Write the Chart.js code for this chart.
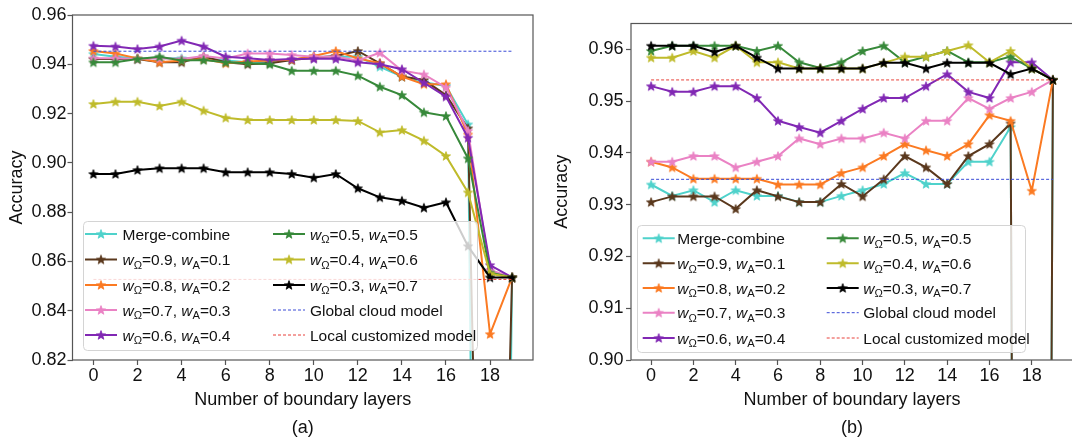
<!DOCTYPE html>
<html>
<head>
<meta charset="utf-8">
<script src="https://cdn.jsdelivr.net/npm/chart.js@4.4.1/dist/chart.umd.min.js"></script>
<style>
  html, body { margin: 0; padding: 0; background: #fff; overflow: hidden; }
  #wrap { position: relative; width: 1072px; height: 438px; overflow: hidden; }
  canvas { position: absolute; top: 0; }
  #chartA { left: 0; }
  #chartB { left: 540px; }
</style>
</head>
<body>
<div id="wrap">
  <canvas id="chartA" width="540" height="438"></canvas>
  <canvas id="chartB" width="540" height="438"></canvas>
</div>
<script>
// x values and tick labels
const layers = [0, 1, 2, 3, 4, 5, 6, 7, 8, 9, 10, 11, 12, 13, 14, 15, 16, 17, 18, 19];
const xTicks = [0, 2, 4, 6, 8, 10, 12, 14, 16, 18];
const yTicksA = [0.82, 0.84, 0.86, 0.88, 0.90, 0.92, 0.94, 0.96];
const yTicksB = [0.90, 0.91, 0.92, 0.93, 0.94, 0.95, 0.96];

// weight pairs for the legend (w_Omega, w_A)
const weightsOmega = [0.9, 0.8, 0.7, 0.6, 0.5, 0.4, 0.3];
const weightsA = [0.1, 0.2, 0.3, 0.4, 0.5, 0.6, 0.7];

// panel (a)
const mergeA = [0.9442, 0.9431, 0.9424, 0.9424, 0.9424, 0.9424, 0.9415, 0.9408, 0.9408, 0.9417, 0.9431, 0.9431, 0.9431, 0.9390, 0.9350, 0.9327, 0.9312, 0.9156, 0.1, 0.8535];
const w91A = [0.9421, 0.9421, 0.9421, 0.9408, 0.9408, 0.9431, 0.9408, 0.9400, 0.9404, 0.9417, 0.9427, 0.9434, 0.9454, 0.9404, 0.9350, 0.9336, 0.9275, 0.9140, 0.5, 0.8535];
const w82A = [0.9454, 0.9444, 0.9424, 0.9408, 0.9415, 0.9421, 0.9404, 0.9411, 0.9415, 0.9418, 0.9434, 0.9454, 0.9424, 0.9404, 0.9350, 0.9319, 0.9319, 0.9115, 0.8305, 0.8535];
const w73A = [0.9424, 0.9424, 0.9421, 0.9424, 0.9421, 0.9434, 0.9424, 0.9444, 0.9444, 0.9438, 0.9431, 0.9431, 0.9415, 0.9447, 0.9375, 0.9359, 0.9306, 0.9130, 0.8565, 0.8535];
const w64A = [0.9475, 0.9472, 0.9462, 0.9472, 0.9496, 0.9472, 0.9431, 0.9424, 0.9417, 0.9421, 0.9422, 0.9422, 0.9408, 0.9400, 0.9380, 0.9325, 0.9269, 0.9102, 0.8585, 0.8535];
const w55A = [0.9408, 0.9408, 0.9421, 0.9431, 0.9415, 0.9417, 0.9408, 0.9404, 0.9400, 0.9374, 0.9374, 0.9374, 0.9354, 0.9309, 0.9275, 0.9205, 0.9190, 0.9018, 0.8555, 0.8535];
const w46A = [0.9239, 0.9248, 0.9248, 0.9231, 0.9248, 0.9212, 0.9183, 0.9174, 0.9174, 0.9174, 0.9174, 0.9174, 0.9170, 0.9124, 0.9133, 0.9090, 0.9028, 0.8880, 0.8550, 0.8535];
const w37A = [0.8955, 0.8955, 0.8971, 0.8978, 0.8978, 0.8978, 0.8962, 0.8962, 0.8962, 0.8955, 0.8940, 0.8955, 0.8897, 0.8860, 0.8846, 0.8818, 0.8840, 0.8662, 0.8535, 0.8535];
const globalA = 0.9453;
const localA = 0.8527;

// panel (b)
const mergeB = [0.9339, 0.9317, 0.9328, 0.9305, 0.9328, 0.9317, 0.9317, 0.9305, 0.9305, 0.9317, 0.9328, 0.9340, 0.9361, 0.9340, 0.9340, 0.9383, 0.9383, 0.9450, 0.1, 0.9541];
const w91B = [0.9305, 0.9316, 0.9316, 0.9316, 0.9292, 0.9328, 0.9316, 0.9305, 0.9305, 0.9340, 0.9316, 0.9349, 0.9394, 0.9372, 0.9340, 0.9394, 0.9417, 0.9457, 0.1, 0.9541];
const w82B = [0.9383, 0.9372, 0.9350, 0.9350, 0.9350, 0.9350, 0.9339, 0.9339, 0.9339, 0.9361, 0.9372, 0.9394, 0.9417, 0.9405, 0.9394, 0.9417, 0.9473, 0.9462, 0.9327, 0.9541];
const w73B = [0.9383, 0.9383, 0.9394, 0.9394, 0.9372, 0.9383, 0.9394, 0.9428, 0.9417, 0.9428, 0.9428, 0.9439, 0.9428, 0.9462, 0.9462, 0.9506, 0.9485, 0.9506, 0.9518, 0.9541];
const w64B = [0.9529, 0.9518, 0.9518, 0.9529, 0.9529, 0.9506, 0.9462, 0.9450, 0.9439, 0.9462, 0.9485, 0.9506, 0.9506, 0.9529, 0.9552, 0.9518, 0.9506, 0.9575, 0.9575, 0.9541];
const w55B = [0.9597, 0.9607, 0.9607, 0.9607, 0.9607, 0.9597, 0.9607, 0.9575, 0.9564, 0.9575, 0.9597, 0.9607, 0.9575, 0.9586, 0.9597, 0.9575, 0.9575, 0.9586, 0.9563, 0.9541];
const w46B = [0.9584, 0.9584, 0.9597, 0.9584, 0.9607, 0.9575, 0.9575, 0.9563, 0.9563, 0.9563, 0.9563, 0.9574, 0.9586, 0.9586, 0.9597, 0.9608, 0.9575, 0.9597, 0.9563, 0.9541];
const w37B = [0.9607, 0.9607, 0.9607, 0.9595, 0.9607, 0.9584, 0.9563, 0.9563, 0.9563, 0.9563, 0.9563, 0.9574, 0.9574, 0.9563, 0.9574, 0.9574, 0.9574, 0.9552, 0.9563, 0.9541];
const globalB = 0.9349;
const localB = 0.9541;

const FONT = '"Liberation Sans", Arial, Helvetica, sans-serif';
const seriesColors = ["#4fd2cb", "#5a381d", "#fb7a22", "#ea82c4", "#8128b4", "#37893a", "#bfbb2b", "#000000"];
const refColors = ["#3a4bd6", "#e8413a"];

// filled 5 point star like matplotlib's "*"
function starMarker(color) {
  const r = 4.8;
  const s = 12;
  const c = document.createElement("canvas");
  c.width = s;
  c.height = s;
  const g = c.getContext("2d");
  g.beginPath();
  for (let i = 0; i < 10; i++) {
    const rad = i % 2 ? r * 0.42 : r;
    const a = -Math.PI / 2 + (i * Math.PI) / 5;
    g.lineTo(s / 2 + rad * Math.cos(a), s / 2 + 0.4 + rad * Math.sin(a));
  }
  g.closePath();
  g.fillStyle = color;
  g.fill();
  g.strokeStyle = color;
  g.lineWidth = 0.8;
  g.stroke();
  return c;
}

function weightLabel(wo, wa) {
  return [
    { t: "w", it: true }, { t: "\u03A9", sub: true }, { t: "=" + wo.toFixed(1) + ", " },
    { t: "w", it: true }, { t: "A", sub: true }, { t: "=" + wa.toFixed(1) },
  ];
}

function buildDatasets(seriesList, globalVal, localVal) {
  const sets = seriesList.map((vals, i) => {
    const rich = i === 0 ? [{ t: "Merge-combine" }] : weightLabel(weightsOmega[i - 1], weightsA[i - 1]);
    return {
      label: rich.map((p) => p.t).join(""),
      rich: rich,
      data: layers.map((x, j) => ({ x: x, y: vals[j] })),
      borderColor: seriesColors[i],
      backgroundColor: seriesColors[i],
      borderWidth: 2,
      pointStyle: starMarker(seriesColors[i]),
      pointRadius: 5,
      pointHoverRadius: 5,
      tension: 0,
    };
  });
  const refs = [
    ["Global cloud model", globalVal, refColors[0]],
    ["Local customized model", localVal, refColors[1]],
  ];
  refs.forEach(([name, v, col]) => {
    sets.push({
      label: name,
      rich: [{ t: name }],
      data: [{ x: layers[0], y: v }, { x: layers[layers.length - 1], y: v }],
      borderColor: col,
      borderWidth: 1,
      borderDash: [3, 2],
      pointRadius: 0,
    });
  });
  // later series on top, like the original plotting order
  sets.forEach((d, i) => (d.order = sets.length - i));
  return sets;
}

const framePlugin = {
  id: "frame",
  afterDatasetsDraw(chart) {
    const { ctx, chartArea: a } = chart;
    ctx.save();
    ctx.strokeStyle = "#555";
    ctx.lineWidth = 1.2;
    ctx.strokeRect(a.left, a.top, a.right - a.left, a.bottom - a.top);
    ctx.restore();
  },
};

function drawRich(ctx, x, y, parts, fs) {
  parts.forEach((p) => {
    const size = p.sub ? fs * 0.72 : fs;
    ctx.font = (p.it ? "italic " : "") + size + "px " + FONT;
    ctx.fillText(p.t, x, y + (p.sub ? fs * 0.24 : 0));
    x += ctx.measureText(p.t).width;
  });
}

const boxLegend = {
  id: "boxLegend",
  afterDatasetsDraw(chart, args, o) {
    const ctx = chart.ctx;
    ctx.save();
    ctx.beginPath();
    ctx.roundRect(o.x, o.y, o.w, o.h, 4);
    ctx.fillStyle = "rgba(255,255,255,0.8)";
    ctx.fill();
    ctx.strokeStyle = "#d4d4d4";
    ctx.lineWidth = 1;
    ctx.stroke();
    chart.data.datasets.forEach((ds, i) => {
      const c = o.cols[i < 5 ? 0 : 1];
      const cy = o.rows[i % 5];
      ctx.strokeStyle = ds.borderColor;
      ctx.lineWidth = ds.borderWidth;
      ctx.setLineDash(ds.borderDash || []);
      ctx.beginPath();
      ctx.moveTo(c.lineX, cy);
      ctx.lineTo(c.lineX + o.lineLen, cy);
      ctx.stroke();
      ctx.setLineDash([]);
      if (ds.pointRadius) {
        const m = ds.pointStyle;
        ctx.drawImage(m, c.lineX + o.lineLen / 2 - m.width / 2, cy - m.height / 2);
      }
      ctx.fillStyle = "#111";
      ctx.textBaseline = "alphabetic";
      drawRich(ctx, c.textX, cy + o.fs * 0.36, ds.rich, o.fs);
    });
    ctx.restore();
  },
};

const caption = {
  id: "caption",
  afterDraw(chart, args, o) {
    const { ctx, chartArea: a } = chart;
    ctx.save();
    ctx.font = "18px " + FONT;
    ctx.fillStyle = "#111";
    ctx.textAlign = "center";
    ctx.textBaseline = "middle";
    ctx.fillText(o.text, (a.left + a.right) / 2, o.y);
    ctx.restore();
  },
};

function makeChart(id, p) {
  const tickFont = { family: FONT, size: 18 };
  new Chart(document.getElementById(id), {
    type: "line",
    data: { datasets: buildDatasets(p.series, p.global, p.local) },
    options: {
      responsive: false,
      animation: false,
      events: [],
      layout: { padding: p.pad },
      scales: {
        x: {
          type: "linear",
          min: -0.95,
          max: 19.95,
          afterBuildTicks: (s) => { s.ticks = xTicks.map((v) => ({ value: v })); },
          afterFit: (s) => { s.height = 78; },
          ticks: { font: tickFont, color: "#111", padding: 0, maxRotation: 0, autoSkip: false,
                   callback: (v) => String(v) },
          grid: { drawOnChartArea: false, tickLength: 5, tickColor: "#555", tickWidth: 1.2 },
          border: { display: false },
          title: { display: true, text: "Number of boundary layers", font: tickFont, color: "#111",
                   padding: { top: 0, bottom: 27 } },
        },
        y: {
          min: p.yMin,
          max: p.yMax,
          afterBuildTicks: (s) => { s.ticks = p.yTicks.map((v) => ({ value: v })); },
          afterFit: (s) => { s.width = p.yWidth; },
          ticks: { font: tickFont, color: "#111", padding: p.yPad, callback: (v) => v.toFixed(2) },
          grid: { drawOnChartArea: false, tickLength: 5, tickColor: "#555", tickWidth: 1.2 },
          border: { display: false },
          title: { display: true, text: "Accuracy", font: tickFont, color: "#111",
                   padding: { top: p.titlePad, bottom: 0 } },
        },
      },
      plugins: {
        legend: { display: false },
        tooltip: { enabled: false },
        boxLegend: p.legend,
        caption: { text: p.caption, y: 428 },
      },
    },
    plugins: [framePlugin, boxLegend, caption],
  });
}

makeChart("chartA", {
  series: [mergeA, w91A, w82A, w73A, w64A, w55A, w46A, w37A],
  global: globalA,
  local: localA,
  yMin: 0.82,
  yMax: 0.96,
  yTicks: yTicksA,
  yWidth: 72.5,
  yPad: 1,
  titlePad: 6.5,
  pad: { left: 0, top: 15, right: 5, bottom: 0 },
  caption: "(a)",
  legend: {
    x: 83.5, y: 221.5, w: 394, h: 129, fs: 15.5, lineLen: 32,
    rows: [234, 259.5, 285, 310, 335],
    cols: [{ lineX: 85, textX: 122.5 }, { lineX: 273, textX: 310 }],
  },
});

makeChart("chartB", {
  series: [mergeB, w91B, w82B, w73B, w64B, w55B, w46B, w37B],
  global: globalB,
  local: localB,
  yMin: 0.90,
  yMax: 0.965,
  yTicks: yTicksB,
  yWidth: 91,
  yPad: 2.5,
  titlePad: 11,
  pad: { left: 0, top: 23.5, right: 0, bottom: 0 },
  caption: "(b)",
  legend: {
    x: 97.5, y: 225.5, w: 388, h: 127, fs: 15.5, lineLen: 32,
    rows: [238.3, 263.3, 288, 312.7, 338],
    cols: [{ lineX: 102.7, textX: 137.3 }, { lineX: 286.7, textX: 323.3 }],
  },
});
</script>
</body>
</html>
